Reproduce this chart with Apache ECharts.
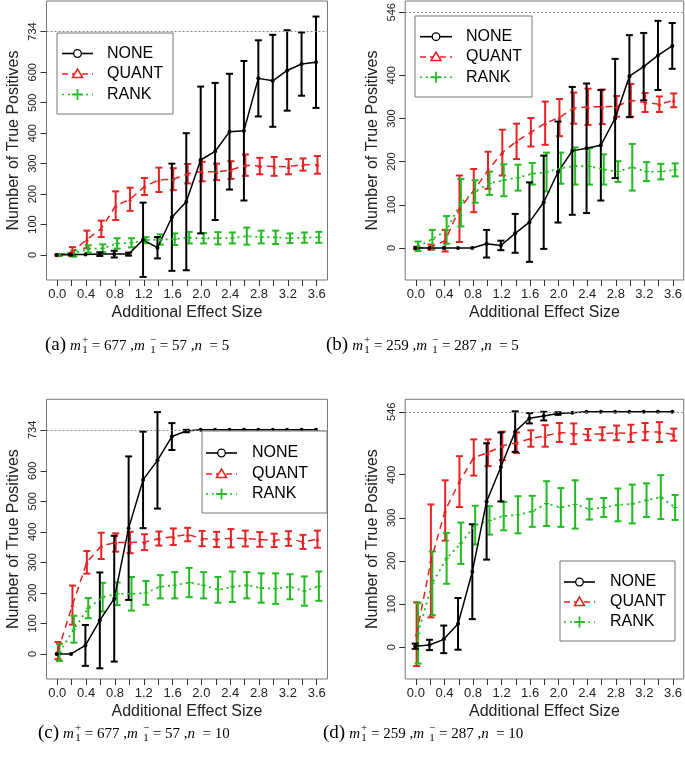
<!DOCTYPE html>
<html><head><meta charset="utf-8">
<script src="https://cdn.jsdelivr.net/npm/echarts@6/dist/echarts.min.js"></script>
<style>html,body{margin:0;padding:0;background:#fff}#c{width:685px;height:760px}</style>
</head><body><div id="c"></div>
<script>
// ---------- data ----------
const effectSizes = [0.0,0.2,0.4,0.6,0.8,1.0,1.2,1.4,1.6,1.8,2.0,2.2,2.4,2.6,2.8,3.0,3.2,3.4,3.6];
const xLabelValues = [0.0,0.4,0.8,1.2,1.6,2.0,2.4,2.8,3.2,3.6];
const yTicks734 = [0,100,200,300,400,500,600,734];
const yTicks546 = [0,100,200,300,400,546];
const totalPositives = [734,546,734,546];
const methodNames = ['NONE','QUANT','RANK'];
const panelLabels = ['(a)','(b)','(c)','(d)'];
const mPlus = [677,259,677,259];
const mMinus = [57,287,57,287];
const nRep = [5,5,10,10];

// panel (a)
const noneMeanA = [0,2,2,3,3,3,50,24,124,175,312,340,405,408,580,572,606,627,633];
const noneSdA   = [0,3,2,6,11,5,122,35,176,225,241,225,190,229,125,151,132,104,150];
const quantMeanA = [0,11,51,86,162,183,225,247,249,267,274,273,279,295,292,291,290,297,296];
const quantSdA   = [3,15,29,27,47,38,28,40,36,32,32,27,29,35,27,31,25,20,29];
const rankMeanA = [0,5,20,22,38,40,49,51,52,57,55,55,56,62,59,58,55,57,58];
const rankSdA   = [3,10,12,13,17,15,10,17,19,19,17,20,18,28,21,22,16,17,18];
// panel (b)
const noneMeanB = [0,0,0,0,0,10,6,34,60,106,176,225,231,238,300,398,420,446,468];
const noneSdB   = [0,0,0,0,0,32,11,45,92,108,117,148,150,128,138,95,78,80,53];
const quantMeanB = [0,2,17,91,133,180,221,247,268,289,302,324,327,327,328,342,337,333,342];
const quantSdB   = [3,6,25,77,50,43,53,41,33,50,43,36,42,40,24,38,22,18,16];
const rankMeanB = [4,20,42,105,131,150,157,163,172,176,185,190,189,182,177,187,177,177,181];
const rankSdB   = [11,22,32,55,26,27,37,30,25,45,36,43,42,35,24,54,22,18,15];
// panel (c)
const noneMeanC = [0,0,28,110,181,412,570,634,712,730,734,734,734,734,734,734,734,734,734];
const noneSdC   = [0,0,67,157,206,235,158,158,44,4,0,0,0,0,0,0,0,0,0];
const quantMeanC = [11,160,300,354,365,365,366,378,384,391,378,375,379,378,375,372,378,367,376];
const quantSdC   = [28,64,37,43,30,35,26,23,27,22,25,25,30,26,24,22,24,23,28];
const rankMeanC = [5,81,150,186,197,197,200,220,225,234,225,210,220,225,216,214,220,206,222];
const rankSdC   = [28,44,33,47,37,55,39,38,43,48,43,42,50,43,48,50,41,48,48];
// panel (d)
const noneMeanD = [2,5,18,54,175,338,418,500,531,536,542,544,546,546,546,546,546,546,546];
const noneSdD   = [6,12,32,60,110,135,80,47,12,10,3,1,0,0,0,0,0,0,0];
const quantMeanD = [30,200,317,384,440,451,467,474,484,490,498,495,493,495,497,496,500,499,493];
const quantSdD   = [74,131,70,59,42,31,33,24,19,25,22,24,13,15,17,20,20,23,14];
const rankMeanD = [32,148,206,241,283,294,304,307,315,333,324,331,320,324,330,332,341,348,324];
const rankSdD   = [70,74,59,48,45,33,33,43,36,52,45,56,24,22,38,45,39,51,29];

// ---------- layout / style ----------
const SANS = '"Liberation Sans", Arial, Helvetica, sans-serif';
const SERIF = '"Liberation Serif", "Times New Roman", serif';
const colors = ['#000000', '#e62222', '#22bb22'];
const xOffsets = [-0.01, 0.01, 0.03];
const lineDash = ['solid', [7,5], [2,4]];
const lineWidths = [1.5, 1.5, 1.8];
const plusPath = 'path://M4,0 L6,0 L6,4 L10,4 L10,6 L6,6 L6,10 L4,10 L4,6 L0,6 L0,4 L4,4 Z';
const symbols = ['circle', 'triangle', plusPath];

const panels = [
  {grid:{left:46.5, top:1, width:281, height:279}, yMin:-82, yMax:834, yTicks:yTicks734,
   means:[noneMeanA, quantMeanA, rankMeanA], sds:[noneSdA, quantSdA, rankSdA],
   legend:{x:57, y:33, w:116, h:81, rows:[53.5,74,94.5], l0:62, l1:93, tx:107},
   cap:{x:45, y:351}},
  {grid:{left:405.2, top:1, width:279.8, height:279}, yMin:-74, yMax:572, yTicks:yTicks546,
   means:[noneMeanB, quantMeanB, rankMeanB], sds:[noneSdB, quantSdB, rankSdB],
   legend:{x:415, y:16, w:117, h:81, rows:[36.7,57,77.3], l0:420, l1:452, tx:466},
   cap:{x:326, y:351}},
  {grid:{left:46.5, top:399.3, width:281, height:279.7}, yMin:-82, yMax:834, yTicks:yTicks734,
   means:[noneMeanC, quantMeanC, rankMeanC], sds:[noneSdC, quantSdC, rankSdC],
   legend:{x:202, y:431, w:125, h:82, rows:[453,474,494], l0:206, l1:237, tx:252},
   cap:{x:38, y:739}},
  {grid:{left:405.2, top:399.3, width:279.8, height:279.7}, yMin:-74, yMax:575, yTicks:yTicks546,
   means:[noneMeanD, quantMeanD, rankMeanD], sds:[noneSdD, quantSdD, rankSdD],
   legend:{x:560, y:561, w:115, h:80, rows:[582,602,622], l0:564, l1:595, tx:610},
   cap:{x:323, y:739}}
];

const grids = [], xAxes = [], yAxes = [], series = [], graphics = [];

panels.forEach((p, pi) => {
  grids.push(Object.assign({show:true, borderColor:'#777', borderWidth:1, backgroundColor:'transparent'}, p.grid));
  xAxes.push({
    gridIndex: pi, type:'value', min:-0.15, max:3.75, position:'bottom',
    axisLine:{show:false, onZero:false}, splitLine:{show:false},
    axisTick:{show:true, customValues: effectSizes, length:6, lineStyle:{color:'#333', width:1}},
    axisLabel:{customValues: xLabelValues, formatter: v => Number(v).toFixed(1), fontSize:13, color:'#222', margin:8, fontFamily:SANS},
    name:'Additional Effect Size', nameLocation:'middle', nameGap:25,
    nameTextStyle:{fontSize:16, color:'#222', fontFamily:SANS}
  });
  yAxes.push({
    gridIndex: pi, type:'value', min:p.yMin, max:p.yMax, position:'left',
    axisLine:{show:false, onZero:false}, splitLine:{show:false},
    axisTick:{show:true, customValues: p.yTicks, length:6, lineStyle:{color:'#333', width:1}},
    axisLabel:{customValues: p.yTicks, rotate:90, fontSize:11, color:'#222', margin:8, fontFamily:SANS},
    name:'Number of True Positives', nameLocation:'middle', nameGap:25,
    nameTextStyle:{fontSize:16, color:'#222', fontFamily:SANS}
  });
  // draw order: QUANT, RANK, NONE
  [1,2,0].forEach(m => {
    const mean = p.means[m], sd = p.sds[m], col = colors[m];
    const barData = effectSizes.map((x, i) => [x + xOffsets[m], mean[i] - sd[i], mean[i] + sd[i]]);
    series.push({
      type:'custom', name: methodNames[m], xAxisIndex: pi, yAxisIndex: pi,
      data: barData, silent:true,
      renderItem: (params, api) => {
        const x = api.value(0), lo = api.value(1), hi = api.value(2);
        const a = api.coord([x, lo]), b = api.coord([x, hi]);
        if (Math.abs(a[1] - b[1]) < 1.5) return null;
        const st = {stroke: col, lineWidth: 2};
        return {type:'group', children:[
          {type:'line', shape:{x1:a[0], y1:a[1], x2:b[0], y2:b[1]}, style:st},
          {type:'line', shape:{x1:a[0]-3.5, y1:a[1], x2:a[0]+3.5, y2:a[1]}, style:st},
          {type:'line', shape:{x1:b[0]-3.5, y1:b[1], x2:b[0]+3.5, y2:b[1]}, style:st}
        ]};
      }
    });
    const s = {
      type:'line', name: methodNames[m], xAxisIndex: pi, yAxisIndex: pi,
      data: effectSizes.map((x, i) => [x + xOffsets[m], mean[i]]),
      symbol: symbols[m], symbolSize: m === 2 ? 5 : 4, showSymbol:true,
      itemStyle:{color: col, borderWidth:0},
      lineStyle:{color: col, width: lineWidths[m], type: lineDash[m]},
      silent:true
    };
    if (m === 0) {
      s.markLine = {silent:true, symbol:['none','none'], label:{show:false},
        lineStyle:{color:'#888', type:[2,2], width:1},
        data:[{yAxis: totalPositives[pi]}]};
    }
    series.push(s);
  });

  // legend box
  const L = p.legend;
  graphics.push({type:'rect', shape:{x:L.x, y:L.y, width:L.w, height:L.h},
    style:{fill:'#fff', stroke:'#777', lineWidth:1}, z:100});
  methodNames.forEach((nm, m) => {
    const y = L.rows[m], col = colors[m], cx = (L.l0 + L.l1)/2;
    const dash = m === 0 ? null : (m === 1 ? [6,4] : [2,4]);
    graphics.push({type:'line', shape:{x1:L.l0, y1:y, x2:L.l1, y2:y},
      style:{stroke:col, lineWidth:1.6, lineDash:dash}, z:101});
    if (m === 0) {
      graphics.push({type:'circle', shape:{cx:cx, cy:y, r:3.8}, style:{fill:'#fff', stroke:col, lineWidth:1.3}, z:102});
    } else if (m === 1) {
      graphics.push({type:'polygon', shape:{points:[[cx, y-5],[cx-5, y+3.5],[cx+5, y+3.5]]},
        style:{fill:'#fff', stroke:col, lineWidth:1.5}, z:102});
    } else {
      graphics.push({type:'line', shape:{x1:cx-5.5, y1:y, x2:cx+5.5, y2:y}, style:{stroke:col, lineWidth:1.8}, z:102});
      graphics.push({type:'line', shape:{x1:cx, y1:y-5.5, x2:cx, y2:y+5.5}, style:{stroke:col, lineWidth:1.8}, z:102});
    }
    graphics.push({type:'text', x:L.tx, y:y, z:102,
      style:{text:nm, font:'16px ' + SANS, fill:'#000', verticalAlign:'middle', align:'left'}});
  });

  // caption
  const ctx = document.createElement('canvas').getContext('2d');
  const fontOf = (size, italic) => (italic ? 'italic ' : '') + size + 'px ' + SERIF;
  const tw = (t, f) => { ctx.font = f; return ctx.measureText(t).width; };
  const MAIN = 15, BIG = 19, SMALL = 11;
  const base = p.cap.y;
  let cx = p.cap.x;
  const put = (t, size, italic, baseline) => {
    const f = fontOf(size, italic);
    graphics.push({type:'text', x:cx, y: baseline - 0.33*size, z:50,
      style:{text:t, font:f, fill:'#000', verticalAlign:'middle', align:'left'}});
    return tw(t, f);
  };
  const stack = (sup, sub) => {
    const f = fontOf(SMALL, false);
    const w = Math.max(tw(sup, f), tw(sub, f));
    graphics.push({type:'text', x:cx + w/2, y: base - 7 - 0.33*SMALL, z:50,
      style:{text:sup, font:f, fill:'#000', verticalAlign:'middle', align:'center'}});
    graphics.push({type:'text', x:cx + w/2, y: base + 2.5 - 0.33*SMALL, z:50,
      style:{text:sub, font:f, fill:'#000', verticalAlign:'middle', align:'center'}});
    return w;
  };
  cx += put(panelLabels[pi], BIG, false, base);
  cx += 4;
  cx += put('m', MAIN, true, base);
  cx += 1;
  cx += stack('+', '1');
  cx += put(' = ' + mPlus[pi] + ' ,', MAIN, false, base);
  cx += put('m', MAIN, true, base);
  cx += 5;
  cx += stack('\u2212', '1');
  cx += put(' = ' + mMinus[pi] + ' ,', MAIN, false, base);
  cx += put('n', MAIN, true, base);
  cx += put('  = ' + nRep[pi], MAIN, false, base);
});

const chart = echarts.init(document.getElementById('c'), null, {renderer:'canvas', width:685, height:760});
chart.setOption({
  animation:false,
  backgroundColor:'#fff',
  grid: grids, xAxis: xAxes, yAxis: yAxes, series: series, graphic: graphics
});
</script>
</body></html>
